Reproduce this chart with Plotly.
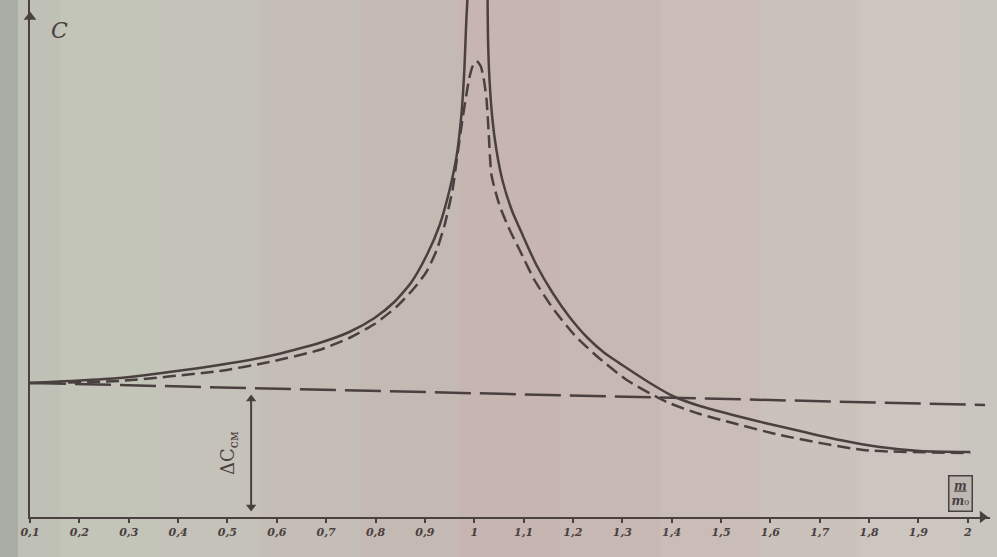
import plotly.graph_objects as go

# ---- data ----
solid_left_x = [0.100, 0.179, 0.281, 0.382, 0.483, 0.585, 0.686, 0.747, 0.798, 0.838, 0.873, 0.905,
                0.930, 0.950, 0.964, 0.974, 0.980, 0.984, 0.987]
solid_left_y = [1.34, 1.36, 1.39, 1.45, 1.52, 1.61, 1.74, 1.85, 1.99, 2.15, 2.35, 2.63,
                2.92, 3.27, 3.60, 4.02, 4.47, 4.97, 5.25]

solid_right_x = [1.027, 1.028, 1.031, 1.037, 1.045, 1.057, 1.076, 1.098, 1.126, 1.159, 1.193, 1.228,
                 1.264, 1.309, 1.356, 1.402, 1.457, 1.524, 1.589, 1.660, 1.741, 1.822, 1.903, 2.005]
solid_right_y = [5.25, 4.77, 4.37, 3.97, 3.67, 3.37, 3.07, 2.82, 2.52, 2.24, 2.00, 1.80,
                 1.64, 1.49, 1.34, 1.21, 1.11, 1.02, 0.94, 0.86, 0.77, 0.70, 0.66, 0.65]

dashed_x = [0.100, 0.281, 0.483, 0.585, 0.686, 0.747, 0.798, 0.842, 0.875, 0.903, 0.924, 0.940, 0.956,
            0.966, 0.976, 0.984, 0.990, 0.997, 1.005, 1.013, 1.019, 1.025, 1.029, 1.035, 1.051, 1.072,
            1.092, 1.122, 1.159, 1.203, 1.248, 1.309, 1.390, 1.457, 1.524, 1.619, 1.788, 2.005]
dashed_y = [1.34, 1.36, 1.46, 1.55, 1.67, 1.79, 1.93, 2.10, 2.27, 2.45, 2.67, 2.92, 3.27,
            3.62, 3.97, 4.22, 4.39, 4.51, 4.56, 4.51, 4.39, 4.17, 3.87, 3.42, 3.12, 2.87,
            2.67, 2.37, 2.09, 1.82, 1.61, 1.37, 1.15, 1.03, 0.94, 0.82, 0.67, 0.64]

level_x = [0.10, 2.035]
level_y = [1.34, 1.12]

delta_x = 0.548
delta_top = 1.26
delta_bottom = 0.02

tick_vals = [0.1, 0.2, 0.3, 0.4, 0.5, 0.6, 0.7, 0.8, 0.9, 1.0, 1.1, 1.2, 1.3, 1.4, 1.5, 1.6, 1.7, 1.8, 1.9, 2.0]
tick_text = ["0,1", "0,2", "0,3", "0,4", "0,5", "0,6", "0,7", "0,8", "0,9", "1",
             "1,1", "1,2", "1,3", "1,4", "1,5", "1,6", "1,7", "1,8", "1,9", "2"]

INK = "#4a4040"

fig = go.Figure()
fig.add_trace(go.Scatter(x=level_x, y=level_y, mode="lines",
                         line=dict(color=INK, width=2.5, dash="36px,9px"), hoverinfo="skip"))
fig.add_trace(go.Scatter(x=dashed_x, y=dashed_y, mode="lines",
                         line=dict(color=INK, width=2.5, dash="13px,6px", shape="spline", smoothing=0.6),
                         hoverinfo="skip"))
fig.add_trace(go.Scatter(x=solid_left_x, y=solid_left_y, mode="lines",
                         line=dict(color=INK, width=2.5, shape="spline", smoothing=0.6), hoverinfo="skip"))
fig.add_trace(go.Scatter(x=solid_right_x, y=solid_right_y, mode="lines",
                         line=dict(color=INK, width=2.5, shape="spline", smoothing=0.6), hoverinfo="skip"))
# delta dimension line with arrowheads
fig.add_trace(go.Scatter(x=[delta_x, delta_x], y=[delta_bottom + 0.05, delta_top - 0.05], mode="lines",
                         line=dict(color=INK, width=2), hoverinfo="skip"))
fig.add_trace(go.Scatter(x=[delta_x, delta_x], y=[delta_top - 0.08, delta_bottom + 0.08], mode="markers",
                         marker=dict(symbol=["triangle-up", "triangle-down"], size=9, color=INK),
                         hoverinfo="skip", cliponaxis=False))
# axis arrowheads
fig.add_trace(go.Scatter(x=[0.1], y=[5.0], mode="markers",
                         marker=dict(symbol="triangle-up", size=11, color=INK), hoverinfo="skip", cliponaxis=False))
fig.add_trace(go.Scatter(x=[2.03], y=[0.0], mode="markers",
                         marker=dict(symbol="triangle-right", size=11, color=INK), hoverinfo="skip", cliponaxis=False))

# background paper gradient (photo of paper)
bg_strips = [(0, 18, "#a9ada6"), (18, 60, "#bfc1b6"), (60, 160, "#c4c5b9"), (160, 260, "#c5c3b9"),
             (260, 360, "#c4beb6"), (360, 460, "#c5b9b3"), (460, 560, "#c6b5b1"), (560, 660, "#c8b8b3"),
             (660, 760, "#cabdb7"), (760, 860, "#ccc2bc"), (860, 960, "#cdc6c0"), (960, 997, "#c9c5bf")]
shapes = []
for px0, px1, c in bg_strips:
    shapes.append(dict(type="rect", xref="paper", yref="paper", layer="below",
                       x0=(px0 - 30) / 960, x1=(px1 + 1 - 30) / 960, y0=-40 / 517, y1=1.0,
                       fillcolor=c, line=dict(width=0)))

ann = [
    dict(x=0.503, y=0.64, xref="x", yref="y", text="ΔC<sub>см</sub>", textangle=-90, showarrow=False,
         font=dict(family="DejaVu Serif", size=18, color=INK)),
    dict(x=0.16, y=4.87, xref="x", yref="y", text="<i>C</i>", showarrow=False,
         font=dict(family="DejaVu Serif", size=22, color=INK)),
    dict(x=1.985, y=0.24, xref="x", yref="y", text="<u><i><b>m</b></i></u><br><i><b>m</b></i>₀", showarrow=False,
         font=dict(family="DejaVu Serif", size=12, color=INK), bordercolor=INK, borderwidth=1.5,
         borderpad=2, bgcolor="#bdb8b2"),
]

fig.update_layout(
    width=997, height=557,
    margin=dict(l=30, r=7, t=0, b=40),
    paper_bgcolor="#c6c0b8", plot_bgcolor="rgba(0,0,0,0)",
    showlegend=False,
    shapes=shapes,
    annotations=ann,
    xaxis=dict(range=[0.1, 2.045], tickvals=tick_vals, ticktext=tick_text, showgrid=False, zeroline=False,
               showline=True, linecolor=INK, linewidth=2, ticks="outside", ticklen=4, tickwidth=2,
               tickcolor=INK, tickfont=dict(family="DejaVu Serif", size=11, color=INK, weight="bold",
                                            style="italic")),
    yaxis=dict(range=[0, 5.17], showgrid=False, zeroline=False, showticklabels=False,
               showline=True, linecolor=INK, linewidth=2),
)

fig.write_html("out.html", post_script="document.body.style.margin='0';",
               config={"displayModeBar": False})
